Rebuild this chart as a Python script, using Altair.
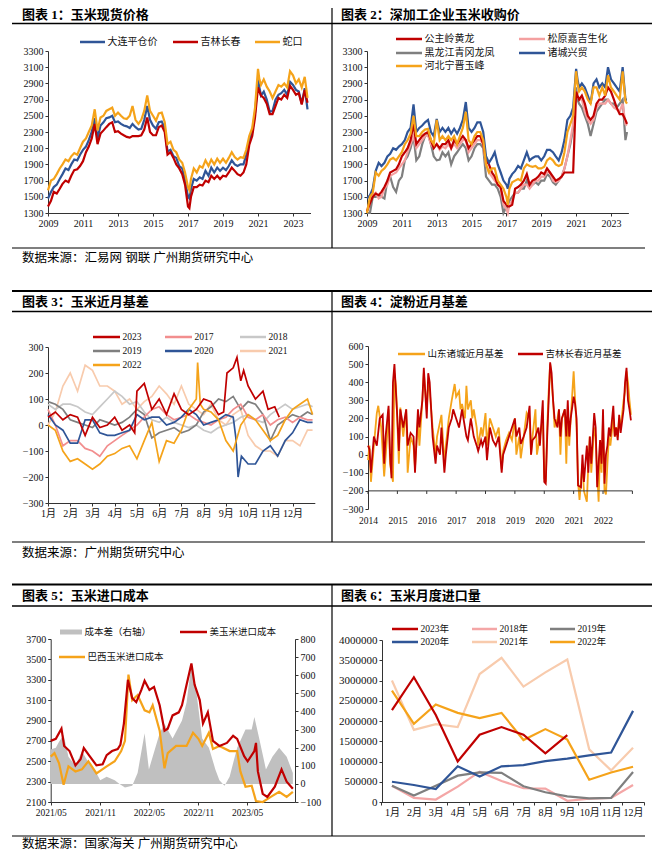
import altair as alt
import pandas as pd

NUM_FONT = "Liberation Serif, Noto Sans CJK SC"
RED = "#C00000"
BLUE = "#2F5597"
GOLD = "#F5A31A"
PINK = "#F4A0A0"
GRAY = "#7F7F7F"
LGRAY = "#C8C8C8"
PEACH = "#F8CBAD"
AREAGRAY = "#C0C0C0"
INK = "#111111"
AX = "#333333"

W, H = 644, 842  # whole drawing, page coordinates minus the 8px margin

# ---------------- Panel 1: 玉米现货价格 ----------------
p1_names = ["大连平仓价", "吉林长春", "蛇口"]
p1_t = [2009.0, 2009.17, 2009.33, 2009.5, 2009.67, 2009.83,
        2010.0, 2010.17, 2010.33, 2010.5, 2010.67, 2010.83,
        2011.0, 2011.17, 2011.33, 2011.5, 2011.67, 2011.83,
        2012.0, 2012.17, 2012.33, 2012.5, 2012.67, 2012.83,
        2013.0, 2013.17, 2013.33, 2013.5, 2013.67, 2013.83,
        2014.0, 2014.17, 2014.33, 2014.5, 2014.67, 2014.83,
        2015.0, 2015.17, 2015.33, 2015.5, 2015.67, 2015.83,
        2016.0, 2016.17, 2016.33, 2016.5, 2016.67, 2016.83,
        2017.0, 2017.08, 2017.17, 2017.33, 2017.5, 2017.67, 2017.83,
        2018.0, 2018.17, 2018.33, 2018.5, 2018.67, 2018.83,
        2019.0, 2019.17, 2019.33, 2019.5, 2019.67, 2019.83,
        2020.0, 2020.17, 2020.33, 2020.5, 2020.67, 2020.83,
        2021.0, 2021.08, 2021.17, 2021.33, 2021.5, 2021.67, 2021.83,
        2022.0, 2022.17, 2022.33, 2022.5, 2022.67, 2022.83,
        2023.0, 2023.17, 2023.33, 2023.5, 2023.67, 2023.83]
p1_shekou = [1580, 1700, 1720, 1780, 1850, 1900,
             1960, 1940, 2000, 2040, 2020, 2100,
             2180, 2220, 2300, 2380, 2580, 2320,
             2480, 2500, 2560, 2580, 2600, 2500,
             2540, 2500, 2470, 2460, 2500, 2620,
             2450, 2400, 2450, 2560, 2750, 2560,
             2500, 2440, 2530, 2540, 2420, 2150,
             2180, 2080, 2050, 1960, 1920, 1800,
             1620, 1580, 1720, 1850, 1800, 1880, 1860,
             1950, 1880, 1960, 1900, 1970, 1920,
             1970, 1920, 1980, 2050, 1990, 1960,
             1990, 1980, 2080, 2250, 2350, 2600,
             3080, 2950, 2880, 2950, 2860, 2800, 2720,
             2800, 2880, 2860, 2900, 2850, 3050,
             3000, 2900, 2950, 2850, 2980, 2720]
p1_dalian = [1480, 1560, 1620, 1650, 1720, 1780,
             1850, 1830, 1900, 1960, 1950, 2020,
             2080, 2120, 2200, 2300, 2470, 2220,
             2380, 2420, 2470, 2480, 2500, 2420,
             2430, 2400, 2380, 2370, 2350, 2400,
             2360, 2330, 2340, 2450, 2620, 2450,
             2380, 2340, 2420, 2430, 2350, 2060,
             2080, 2000, 1980, 1880, 1850, 1700,
             1500, 1480, 1600, 1720, 1700, 1740, 1720,
             1820, 1760, 1860, 1800, 1860, 1820,
             1860, 1830, 1880, 1950, 1900, 1880,
             1900, 1900, 2020, 2200, 2300, 2540,
             2950, 2850, 2750, 2800, 2700, 2550, 2560,
             2700, 2760, 2780, 2820, 2760, 2920,
             2880, 2820, 2800, 2650, 2840, 2580]
p1_jilin = [1380, 1450, 1560, 1540, 1600, 1660,
            1700, 1680, 1760, 1830, 1840, 1880,
            1940, 2050, 2120, 2220, 2400, 2150,
            2280, 2320, 2360, 2400, 2420, 2300,
            2310, 2280, 2260, 2240, 2230, 2250,
            2250, 2250, 2260, 2330, 2480, 2300,
            2260, 2260, 2360, 2380, 2300, 2020,
            2050, 1980, 1900, 1850, 1780, 1650,
            1380, 1360, 1500, 1620, 1620, 1650, 1640,
            1700, 1680, 1760, 1720, 1760, 1720,
            1760, 1750, 1800, 1860, 1820, 1780,
            1760, 1800, 1900, 2140, 2250, 2480,
            2850, 2800, 2750, 2720, 2650, 2520, 2520,
            2620, 2720, 2700, 2760, 2720, 2870,
            2820, 2760, 2780, 2640, 2820, 2660]
p1_xticks = [2009, 2011, 2013, 2015, 2017, 2019, 2021, 2023]
p1_yticks = [1300, 1500, 1700, 1900, 2100, 2300, 2500, 2700, 2900, 3100, 3300]

# ---------------- Panel 2: 深加工企业玉米收购价 ----------------
p2_names = ["公主岭黄龙", "松原嘉吉生化", "黑龙江青冈龙凤", "诸城兴贸", "河北宁晋玉峰"]
p2_t = p1_t + [2023.92]
p2_zhucheng = [1480, 1520, 1600, 1820, 1920, 1880,
               1920, 2000, 2030, 2100, 2080, 2120,
               2150, 2200, 2300, 2350, 2640, 2300,
               2350, 2380, 2420, 2450, 2300, 2250,
               2460, 2300, 2350, 2300, 2350, 2280,
               2340, 2280, 2350, 2450, 2670, 2350,
               2300, 2350, 2420, 2420, 2300, 2000,
               1920, 1980, 2050, 1900, 1800, 1700,
               1650, 1600, 1720, 1780, 1820, 1880, 1850,
               1950, 2050, 1950, 1980, 2000, 2000,
               1950, 2000, 2080, 2080, 2050, 2000,
               1950, 2050, 2200, 2450, 2500, 2600,
               3080, 2950, 2850, 2900, 2850, 2750, 2650,
               2900, 2950, 2850, 2900, 2850, 3100,
               2950, 2900, 2850, 2800, 3100, 2700, 2700]
p2_ningjin = [1300, 1500, 1550, 1800, 1760, 1820,
              1850, 1900, 1960, 1980, 1950, 2000,
              2050, 2150, 2200, 2280, 2500, 2250,
              2250, 2300, 2330, 2340, 2200, 2150,
              2450, 2200, 2250, 2200, 2250, 2200,
              2250, 2150, 2250, 2350, 2550, 2200,
              2150, 2250, 2300, 2300, 2200, 1900,
              1800, 1850, 1850, 1700, 1650, 1600,
              1500, 1400, 1600, 1680, 1700, 1720, 1700,
              1850, 1900, 1880, 1870, 1880, 1850,
              1850, 1870, 1950, 1980, 1950, 1900,
              1880, 1900, 2050, 2300, 2400, 2500,
              3050, 2900, 2800, 2850, 2800, 2700, 2650,
              2850, 2850, 2750, 2850, 2750, 3000,
              2850, 2800, 2750, 2700, 3050, 2680, 2650]
p2_huanglong = [1320, 1420, 1500, 1540, 1520, 1560,
                1620, 1700, 1800, 1820, 1840, 1900,
                2000, 2050, 2100, 2200, 2400, 2150,
                2200, 2250, 2280, 2300, 2200, 2100,
                2150, 2100, 2150, 2150, 2200, 2100,
                2200, 2150, 2200, 2250, 2200, 2100,
                2150, 2200, 2250, 2250, 2150, 1950,
                1900, 1800, 1750, 1650, 1620, 1450,
                1400, 1380, 1380, 1400, 1600, 1620, 1650,
                1700, 1780, 1650, 1700, 1720, 1750,
                1800, 1780, 1850, 1800, 1750, 1700,
                1720, 1750, 1800, 1800, 1800, 1800,
                2800, 2750, 2700, 2750, 2650, 2500, 2450,
                2500, 2650, 2700, 2700, 2750, 2850,
                2800, 2700, 2600, 2520, 2520, 2450, 2400]
p2_songyuan = [1330, 1450, 1520, 1550, 1480, 1500,
               1600, 1650, 1760, 1780, 1800, 1850,
               1900, 1950, 2050, 2150, 2250, 2100,
               2150, 2200, 2250, 2260, 2150, 2100,
               2150, 2080, 2120, 2100, 2150, 2100,
               2150, 2100, 2150, 2200, 2200, 2050,
               2100, 2150, 2200, 2200, 2150, 1900,
               1800, 1750, 1700, 1650, 1600, 1400,
               1350, 1300, 1400, 1450, 1550, 1550, 1600,
               1650, 1650, 1600, 1650, 1700, 1700,
               1750, 1750, 1800, 1800, 1700, 1680,
               1700, 1750, 1850, 2000, 2200, 2400,
               2800, 2750, 2700, 2700, 2550, 2450, 2400,
               2450, 2600, 2650, 2650, 2650, 2700,
               2650, 2600, 2580, 2550, 2650, 2400, 2380]
p2_qinggang = [1300, 1300, 1500, 1500, 1520, 1500,
               1480, 1700, 1750, 1620, 1560, 1700,
               1750, 1950, 2000, 2100, 2250, 1950,
               2000, 2150, 2250, 2280, 2150, 2000,
               1950, 1960, 2050, 2000, 2050, 1900,
               2000, 2050, 2100, 2150, 2100, 1950,
               2000, 2100, 2150, 2150, 2100, 1750,
               1700, 1650, 1650, 1600, 1500, 1300,
               1380, 1350, 1450, 1500, 1550, 1550, 1600,
               1600, 1700, 1620, 1650, 1680, 1650,
               1700, 1700, 1780, 1750, 1680, 1650,
               1700, 1750, 1850, 2000, 2150, 2350,
               2850, 2700, 2650, 2600, 2500, 2400, 2250,
               2400, 2550, 2600, 2650, 2700, 2700,
               2650, 2650, 2600, 2650, 2700, 2200, 2300]

# ---------------- Panel 3: 玉米近月基差 ----------------
p3_names = ["2023", "2017", "2018", "2019", "2020", "2021", "2022"]
p3_grid = [1.0, 1.33, 1.67, 2.0, 2.33, 2.67, 3.0, 3.33, 3.67, 4.0, 4.33, 4.67,
           5.0, 5.33, 5.67, 6.0, 6.33, 6.67, 7.0, 7.33, 7.67, 8.0, 8.33, 8.67,
           9.0, 9.33, 9.67, 10.0, 10.33, 10.67, 11.0, 11.33, 11.67, 12.0, 12.33, 12.67, 12.9]
b2017 = [60, 0, -80, -60, -60, -90, -100, -120, -80, -60, -40, -20, 0, 30, 60, 70, 40, 20,
         30, 40, 20, 10, 0, 20, 30, 60, 80, 30, 20, 40, 0, 20, 30, 10, 30, 20, 20]
b2018 = [80, 60, 80, 80, 70, 50, 40, 70, 100, 130, 110, 80, 90, 50, 20, 10, 30, 10,
         0, -10, 0, -20, -30, -10, 0, 10, 30, 40, 20, 10, 40, 60, 80, 60, 70, 80, 70]
b2019 = [90, 80, 60, 20, 10, 0, -10, 20, 10, 0, 10, 30, 60, 40, -50, -30, -20, -10,
         -30, -20, 0, 50, 70, 100, 90, 110, 60, 90, 80, 40, -60, 0, 20, 40, 30, 50, 40]
b2021 = [0, 50, 150, 200, 130, 230, 210, 150, 150, 130, 80, 100, 60, 90, 110, 150, 120, 80,
         150, 80, 60, 40, 80, 20, 0, 40, 60, -40, -80, -100, -100, -120, -60, -60, -80, -20, -20]
m2023 = [1.0, 1.33, 1.67, 2.0, 2.33, 2.67, 3.0, 3.33, 3.67, 4.0, 4.33, 4.67, 4.9,
         5.0, 5.33, 5.67, 6.0, 6.33, 6.67, 7.0, 7.33, 7.67, 8.0, 8.33, 8.67, 8.9,
         9.05, 9.33, 9.5, 9.67, 9.8, 10.0, 10.33, 10.67, 10.9, 11.2, 11.4]
b2023 = [30, 50, 20, 40, 30, -40, 30, -10, 0, 30, -20, 0, -30,
         130, 160, 60, 100, 40, 120, 60, 40, 60, 100, 90, 40, 50,
         200, 220, 260, 170, 210, 150, 100, 130, 60, 70, 30]
m2020 = [1.0, 1.33, 1.67, 2.0, 2.33, 2.67, 3.0, 3.33, 3.67, 4.0, 4.33, 4.67, 5.0,
         5.33, 5.67, 6.0, 6.33, 6.67, 7.0, 7.33, 7.67, 8.0, 8.33, 8.67, 9.0, 9.33,
         9.45, 9.55, 9.7, 10.0, 10.33, 10.67, 11.0, 11.33, 11.67, 12.0, 12.33, 12.67, 12.9]
b2020 = [40, 0, -20, -70, -70, 20, 20, -30, -40, -40, -30, -20, 40,
         20, 30, 30, 0, 10, 30, 60, 40, 0, 10, 20, 40, 30,
         -50, -200, -120, -150, -150, -100, -80, -120, -60, -30, 20, 10, 10]
m2022 = [1.0, 1.33, 1.67, 2.0, 2.33, 2.67, 3.0, 3.33, 3.67, 4.0, 4.33, 4.67, 5.0,
         5.33, 5.67, 6.0, 6.33, 6.67, 7.0, 7.33, 7.67, 7.73, 7.85, 8.0, 8.33, 8.67,
         9.0, 9.33, 9.67, 10.0, 10.33, 10.67, 11.0, 11.33, 11.67, 12.0, 12.33, 12.67, 12.9]
b2022 = [0, -20, -100, -140, -130, -150, -170, -150, -120, -110, -90, -80, -130,
         -60, 10, -140, -60, -70, -20, 60, 100, 240, 80, 60, 50, 20,
         -60, -100, 0, 40, 20, -20, -60, -40, 20, 60, 80, 100, 40]
p3_months = [1, 2, 3, 4, 5, 6, 7, 8, 9, 10, 11, 12]
p3_yticks = [-300, -200, -100, 0, 100, 200, 300]

# ---------------- Panel 4: 淀粉近月基差 ----------------
p4_names = ["山东诸城近月基差", "吉林长春近月基差"]
p4_shandong = [
    (2014.0, -30), (2014.05, 50), (2014.1, -150), (2014.2, 50), (2014.3, 230), (2014.35, 270),
    (2014.45, 150), (2014.55, -120), (2014.65, 100), (2014.7, 250), (2014.75, -50), (2014.85, -150),
    (2014.9, 450), (2014.95, 380), (2015.0, 180), (2015.05, -50), (2015.1, 260), (2015.2, 100),
    (2015.3, 250), (2015.35, -100), (2015.45, 100), (2015.55, 50), (2015.6, -70), (2015.7, 200),
    (2015.75, 50), (2015.85, 300), (2015.9, 450), (2016.0, 250), (2016.05, 400), (2016.1, 350),
    (2016.2, 150), (2016.3, 0), (2016.35, 100), (2016.45, 180), (2016.5, 220), (2016.6, -50),
    (2016.65, 50), (2016.75, 200), (2016.85, 300), (2016.95, 390), (2017.0, 320), (2017.1, 350),
    (2017.15, 250), (2017.2, 280), (2017.3, 200), (2017.35, 380), (2017.4, 250), (2017.5, 300),
    (2017.55, 200), (2017.6, 250), (2017.7, 150), (2017.75, 50), (2017.85, 150), (2017.9, 100),
    (2018.0, 230), (2018.05, 50), (2018.15, 200), (2018.25, 150), (2018.35, 100), (2018.45, 150),
    (2018.55, -80), (2018.6, 20), (2018.7, 80), (2018.8, 120), (2018.9, 80), (2019.0, 200),
    (2019.05, 0), (2019.15, 100), (2019.2, -20), (2019.3, 100), (2019.4, 230), (2019.5, 200),
    (2019.55, 0), (2019.6, 100), (2019.7, 250), (2019.75, 0), (2019.85, 100), (2019.95, 200),
    (2020.0, -130), (2020.05, -150), (2020.1, 150), (2020.15, 350), (2020.2, 500), (2020.25, 400),
    (2020.3, 300), (2020.35, 150), (2020.45, 200), (2020.5, 250), (2020.55, 0), (2020.6, 200),
    (2020.7, 250), (2020.75, -50), (2020.8, 250), (2020.85, 50), (2020.9, 200), (2021.0, 460),
    (2021.05, 300), (2021.1, 150), (2021.15, -150), (2021.2, -250), (2021.3, -50), (2021.35, -200),
    (2021.45, -260), (2021.5, -50), (2021.55, 100), (2021.6, -100), (2021.7, 150), (2021.75, 100),
    (2021.8, -100), (2021.85, -260), (2021.9, 50), (2021.95, -100), (2022.0, 200), (2022.05, -200),
    (2022.1, -220), (2022.15, -50), (2022.2, 100), (2022.25, 50), (2022.35, 200), (2022.4, 100),
    (2022.45, 150), (2022.5, 100), (2022.55, 200), (2022.6, 150), (2022.7, 300), (2022.75, 350),
    (2022.8, 460), (2022.85, 400), (2022.9, 300), (2022.95, 220)]
p4_jilin = [
    (2014.0, 50), (2014.05, 30), (2014.1, -100), (2014.2, 100), (2014.3, 50), (2014.4, 200),
    (2014.5, 220), (2014.55, -50), (2014.6, 100), (2014.7, 270), (2014.75, 0), (2014.8, -130),
    (2014.85, 400), (2014.9, 500), (2015.0, 200), (2015.05, 20), (2015.1, 250), (2015.2, 150),
    (2015.3, 250), (2015.35, 50), (2015.45, 120), (2015.55, 100), (2015.6, -100), (2015.7, 250),
    (2015.75, 150), (2015.85, 300), (2015.9, 480), (2016.0, 200), (2016.05, 450), (2016.1, 400),
    (2016.2, 100), (2016.3, -50), (2016.35, 50), (2016.45, 0), (2016.5, 150), (2016.6, -100),
    (2016.65, 0), (2016.75, 150), (2016.85, 200), (2016.9, 250), (2017.0, 200), (2017.1, 150),
    (2017.2, 250), (2017.3, 150), (2017.35, 100), (2017.4, 80), (2017.5, 200), (2017.55, 150),
    (2017.6, 100), (2017.7, 50), (2017.75, 20), (2017.85, 80), (2017.9, 50), (2018.0, 100),
    (2018.05, -30), (2018.15, 150), (2018.25, 80), (2018.35, 50), (2018.45, 100), (2018.55, -100),
    (2018.6, 0), (2018.7, 50), (2018.8, 100), (2018.9, 150), (2019.0, 200), (2019.05, 100),
    (2019.15, 150), (2019.2, 60), (2019.3, 100), (2019.4, 150), (2019.5, 270), (2019.55, 0),
    (2019.6, 80), (2019.7, 100), (2019.8, 150), (2019.85, 50), (2019.95, 300), (2020.0, -150),
    (2020.05, -160), (2020.1, 100), (2020.15, 300), (2020.2, 510), (2020.25, 450), (2020.3, 300),
    (2020.35, 200), (2020.45, 150), (2020.5, 250), (2020.55, 100), (2020.6, 200), (2020.7, 250),
    (2020.75, 100), (2020.8, 300), (2020.85, 100), (2020.9, 200), (2021.0, 320), (2021.05, 280),
    (2021.1, 200), (2021.15, -170), (2021.25, -180), (2021.3, 0), (2021.35, -150), (2021.45, 50),
    (2021.5, -100), (2021.55, 100), (2021.6, -50), (2021.7, 230), (2021.75, 150), (2021.8, -180),
    (2021.9, 80), (2021.95, -50), (2022.0, 250), (2022.05, -160), (2022.1, 0), (2022.15, 50),
    (2022.2, 150), (2022.25, 100), (2022.35, 270), (2022.4, 100), (2022.45, 150), (2022.5, 80),
    (2022.55, 220), (2022.6, 120), (2022.7, 250), (2022.75, 400), (2022.8, 480), (2022.85, 300),
    (2022.9, 250), (2022.95, 190)]
p4_years = [2014, 2015, 2016, 2017, 2018, 2019, 2020, 2021, 2022]
p4_tickyears = [2014, 2015, 2016, 2017, 2018, 2019, 2020, 2021, 2022, 2023]
p4_yticks = [-300, -200, -100, 0, 100, 200, 300, 400, 500, 600]
p4_baseline = -200

# ---------------- Panel 5: 玉米进口成本 ----------------
p5_names = ["成本差（右轴）", "美玉米进口成本", "巴西玉米进口成本"]
p5_us = [
    ("2021/05/01", 2700), ("2021/05/20", 2720), ("2021/06/10", 2820), ("2021/06/20", 2650),
    ("2021/07/10", 2600), ("2021/08/01", 2460), ("2021/08/20", 2520), ("2021/09/01", 2630),
    ("2021/09/20", 2560), ("2021/10/18", 2460), ("2021/11/10", 2470), ("2021/11/25", 2560),
    ("2021/12/15", 2600), ("2022/01/05", 2620), ("2022/01/15", 2660), ("2022/01/28", 2870),
    ("2022/02/12", 3300), ("2022/02/28", 3120), ("2022/03/15", 3080), ("2022/04/03", 3200),
    ("2022/04/15", 3290), ("2022/05/03", 3200), ("2022/05/20", 3230), ("2022/06/10", 3050),
    ("2022/06/28", 2800), ("2022/07/10", 2820), ("2022/07/28", 2950), ("2022/08/20", 2980),
    ("2022/09/01", 3050), ("2022/09/18", 3250), ("2022/10/06", 3460), ("2022/10/18", 3250),
    ("2022/11/06", 3100), ("2022/11/18", 2870), ("2022/12/06", 2980), ("2022/12/25", 2700),
    ("2023/01/18", 2650), ("2023/02/15", 2680), ("2023/03/10", 2750), ("2023/03/25", 2720),
    ("2023/04/20", 2550), ("2023/05/03", 2500), ("2023/05/28", 2600), ("2023/06/03", 2680),
    ("2023/06/10", 2400), ("2023/06/28", 2180), ("2023/07/15", 2150), ("2023/08/12", 2250),
    ("2023/09/06", 2420), ("2023/09/25", 2300), ("2023/10/18", 2230)]
p5_brazil = [
    ("2021/05/01", 2545), ("2021/05/15", 2580), ("2021/06/01", 2480), ("2021/06/18", 2270),
    ("2021/07/06", 2450), ("2021/08/01", 2400), ("2021/08/25", 2420), ("2021/09/18", 2500),
    ("2021/10/18", 2380), ("2021/11/25", 2450), ("2021/12/25", 2500), ("2022/01/18", 2600),
    ("2022/02/01", 2700), ("2022/02/14", 3350), ("2022/02/28", 3100), ("2022/03/20", 3150),
    ("2022/04/15", 3000), ("2022/05/03", 2980), ("2022/05/15", 3050), ("2022/06/10", 2800),
    ("2022/06/28", 2430), ("2022/07/10", 2580), ("2022/08/10", 2650), ("2022/09/18", 2650),
    ("2022/10/12", 2780), ("2022/11/01", 2720), ("2022/11/15", 2650), ("2022/12/10", 2780),
    ("2022/12/25", 2620), ("2023/01/18", 2650), ("2023/02/25", 2600), ("2023/03/25", 2600),
    ("2023/04/06", 2400), ("2023/04/25", 2250), ("2023/05/18", 2260), ("2023/06/03", 2110),
    ("2023/06/28", 2100), ("2023/07/28", 2150), ("2023/08/28", 2200), ("2023/09/25", 2150),
    ("2023/10/18", 2200)]
p5_spread = [
    ("2021/05/01", 190), ("2021/05/20", 200), ("2021/06/01", 232), ("2021/06/18", 270),
    ("2021/07/06", 150), ("2021/08/01", 100), ("2021/08/25", 180), ("2021/09/18", 120),
    ("2021/10/18", 60), ("2021/11/01", 20), ("2021/11/25", 40), ("2021/12/25", 20),
    ("2022/01/12", 0), ("2022/02/01", -20), ("2022/02/28", -10), ("2022/03/20", 60),
    ("2022/04/15", 280), ("2022/05/01", 80), ("2022/05/15", 150), ("2022/06/10", 280),
    ("2022/06/28", 330), ("2022/07/28", 250), ("2022/09/01", 350), ("2022/09/18", 450),
    ("2022/10/06", 660), ("2022/10/25", 500), ("2022/11/15", 250), ("2022/12/10", 200),
    ("2023/01/03", 80), ("2023/01/18", 20), ("2023/02/06", -10), ("2023/02/25", 40),
    ("2023/03/25", 200), ("2023/04/25", 300), ("2023/05/18", 300), ("2023/05/28", 370),
    ("2023/06/15", 250), ("2023/07/10", 80), ("2023/08/03", 150), ("2023/08/28", 200),
    ("2023/09/25", 150), ("2023/10/18", 60)]
p5_left_ticks = [2100, 2300, 2500, 2700, 2900, 3100, 3300, 3500, 3700]
p5_right_ticks = [-100, 0, 100, 200, 300, 400, 500, 600, 700, 800]
p5_xlabels = [(2021, 5), (2021, 11), (2022, 5), (2022, 11), (2023, 5)]

# ---------------- Panel 6: 玉米月度进口量 ----------------
p6_names = ["2023年", "2018年", "2019年", "2020年", "2021年", "2022年"]
imp_2023 = [2270000, 3080000, 2150000, 1000000, 1660000, 1850000, 1660000, 1200000, 1650000]
imp_2018 = [400000, 100000, 60000, 380000, 750000, 520000, 340000, 330000, 30000, 80000, 100000, 420000]
imp_2019 = [400000, 160000, 400000, 650000, 730000, 720000, 390000, 240000, 140000, 90000, 100000, 740000]
imp_2020 = [500000, 420000, 320000, 880000, 630000, 880000, 910000, 1010000, 1070000, 1150000, 1220000, 2250000]
imp_2021 = [3000000, 1780000, 1920000, 1850000, 3160000, 3560000, 2850000, 3200000, 3520000, 1300000, 780000, 1340000]
imp_2022 = [2750000, 1930000, 2410000, 2200000, 2070000, 2200000, 1530000, 1800000, 1540000, 550000, 730000, 870000]
p6_yticks = [0, 500000, 1000000, 1500000, 2000000, 2500000, 3000000, 3500000, 4000000]
p6_xticks = [0.5, 1.5, 2.5, 3.5, 4.5, 5.5, 6.5, 7.5, 8.5, 9.5, 10.5, 11.5, 12.5]

titles = ["图表 1：玉米现货价格", "图表 2：深加工企业玉米收购价", "图表 3：玉米近月基差",
          "图表 4：淀粉近月基差", "图表 5：玉米进口成本", "图表 6：玉米月度进口量"]
sources = ["数据来源：汇易网 钢联 广州期货研究中心", "数据来源：广州期货研究中心",
           "数据来源：国家海关 广州期货研究中心"]


# ---------------- helpers ----------------
def long_df(series):
    rows = []
    for name, xs, ys in series:
        for x, y in zip(xs, ys):
            rows.append({"x": x, "y": y, "s": name})
    return pd.DataFrame(rows)


def pairs_df(series):
    rows = []
    for name, pts in series:
        for x, y in pts:
            rows.append({"x": x, "y": y, "s": name})
    return pd.DataFrame(rows)


ONE = alt.InlineData(values=[{"k": 1}])


def hline(x1, x2, y, w=1.0, color="black"):
    return alt.Chart(ONE).mark_rule(color=color, strokeWidth=w).encode(
        x=alt.value(x1), x2=alt.value(x2), y=alt.value(y))


def vline(x, y1, y2, w=1.0):
    return alt.Chart(ONE).mark_rule(color="black", strokeWidth=w).encode(
        x=alt.value(x), y=alt.value(y1), y2=alt.value(y2))


def text(x, y, s, bold=False, size=13, color="black"):
    return alt.Chart(ONE).mark_text(align="left", baseline="middle", fontSize=size,
                                    fontWeight="bold" if bold else "normal",
                                    font=NUM_FONT, color=color).encode(
        x=alt.value(x), y=alt.value(y), text=alt.value(s))


def legend_items(items, size=10):
    # items: (label, colour, line x0, line x1, y, stroke width)
    out = []
    for label, col, x0, x1, y, sw in items:
        out.append(hline(x0, x1, y, sw, col))
        out.append(text(x1 + 2.5, y, label, size=size, color=INK))
    return out


def xaxis(values, bottom, **kw):
    base = dict(values=values, orient="bottom", offset=bottom - H, title=None, grid=False,
                labelOverlap=False, labelFlush=False)
    base.update(kw)
    return alt.Axis(**base)


def yaxis(values, left, **kw):
    base = dict(values=values, orient="left", offset=-left, title=None, grid=False,
                labelOverlap=False, format="d")
    base.update(kw)
    return alt.Axis(**base)


# ---------------- Panel 1 ----------------
df1 = long_df([(p1_names[0], p1_t, p1_dalian), (p1_names[1], p1_t, p1_jilin),
               (p1_names[2], p1_t, p1_shekou)])
c1 = [BLUE, RED, GOLD]
p1 = alt.Chart(df1).mark_line(strokeWidth=2.2).encode(
    x=alt.X("x:Q", scale=alt.Scale(domain=[2009, 2024], range=[40, 302.5], nice=False),
            axis=xaxis(p1_xticks, 205, format="d")),
    y=alt.Y("y:Q", scale=alt.Scale(domain=[1300, 3300], range=[205, 43], nice=False),
            axis=yaxis(p1_yticks, 40)),
    color=alt.Color("s:N", scale=alt.Scale(domain=p1_names, range=c1), legend=None),
)

# ---------------- Panel 2 ----------------
df2 = long_df([(p2_names[2], p2_t, p2_qinggang), (p2_names[1], p2_t, p2_songyuan),
               (p2_names[0], p2_t, p2_huanglong), (p2_names[3], p2_t, p2_zhucheng),
               (p2_names[4], p2_t, p2_ningjin)])
c2 = [RED, PINK, GRAY, BLUE, GOLD]
p2 = alt.Chart(df2).mark_line(strokeWidth=2.2).encode(
    x=alt.X("x:Q", scale=alt.Scale(domain=[2009, 2024], range=[359, 620.4], nice=False),
            axis=xaxis(p1_xticks, 205, format="d")),
    y=alt.Y("y:Q", scale=alt.Scale(domain=[1300, 3300], range=[205, 43], nice=False),
            axis=yaxis(p1_yticks, 359)),
    color=alt.Color("s:N", scale=alt.Scale(domain=p2_names, range=c2), legend=None),
)

# ---------------- Panel 3 ----------------
df3 = long_df([("2021", p3_grid, b2021), ("2018", p3_grid, b2018), ("2019", p3_grid, b2019),
               ("2017", p3_grid, b2017), ("2020", m2020, b2020), ("2022", m2022, b2022),
               ("2023", m2023, b2023)])
c3 = [RED, "#F28E8E", LGRAY, GRAY, BLUE, PEACH, GOLD]
p3 = alt.Chart(df3).mark_line(strokeWidth=1.7).encode(
    x=alt.X("x:Q", scale=alt.Scale(domain=[1, 13], range=[40, 306.8], nice=False),
            axis=xaxis(p3_months, 495, labelExpr="datum.value + '月'")),
    y=alt.Y("y:Q", scale=alt.Scale(domain=[-300, 300], range=[495, 339], nice=False),
            axis=yaxis(p3_yticks, 40)),
    color=alt.Color("s:N", scale=alt.Scale(domain=p3_names, range=c3), legend=None),
)

# ---------------- Panel 4 ----------------
df4 = pairs_df([(p4_names[0], p4_shandong), (p4_names[1], p4_jilin)])
df4t = pd.DataFrame({"x": p4_tickyears, "y": [p4_baseline] * len(p4_tickyears),
                     "y2": [p4_baseline - 17] * len(p4_tickyears)})
df4b = pd.DataFrame({"x": [p4_tickyears[0]], "x2": [p4_tickyears[-1]], "y": [p4_baseline]})
c4 = [GOLD, RED]
x4 = alt.X("x:Q", scale=alt.Scale(domain=[2014, 2023], range=[360, 624.4], nice=False),
           axis=xaxis(p4_years, 501, format="d", domain=False, ticks=False,
                      labelPadding=6, labelFontSize=9.5))
y4 = alt.Y("y:Q", scale=alt.Scale(domain=[-300, 600], range=[501, 338], nice=False),
           axis=yaxis(p4_yticks, 360))
p4 = alt.layer(
    alt.Chart(df4).mark_line(strokeWidth=1.8).encode(
        x=x4, y=y4,
        color=alt.Color("s:N", scale=alt.Scale(domain=p4_names, range=c4), legend=None),
    ),
    alt.Chart(df4b).mark_rule(color=AX, strokeWidth=1).encode(x=x4, x2="x2:Q", y=y4),
    alt.Chart(df4t).mark_rule(color=AX, strokeWidth=1).encode(x=x4, y=y4, y2="y2:Q"),
)

# ---------------- Panel 5 ----------------
df5a = pd.DataFrame({"x": [d for d, _ in p5_spread], "y": [v for _, v in p5_spread]})
df5l = pairs_df([(p5_names[2], p5_brazil), (p5_names[1], p5_us)])
dstart = alt.DateTime(year=2021, month=5, date=1)
dend = alt.DateTime(year=2023, month=10, date=26)
x5 = alt.X("x:T", scale=alt.Scale(domain=[dstart, dend], range=[42.7, 287]),
           axis=xaxis([alt.DateTime(year=y, month=m, date=1) for y, m in p5_xlabels], 794,
                      format="%Y/%m", labelFontSize=9.5))
area5 = alt.Chart(df5a).mark_area(color=AREAGRAY).encode(
    x=x5,
    y=alt.Y("y:Q", scale=alt.Scale(domain=[-100, 800], range=[794, 631], nice=False),
            axis=alt.Axis(values=p5_right_ticks, orient="right", offset=287 - W, format="d",
                          title=None, grid=False, labelOverlap=False)),
    y2=alt.datum(0),
)
lines5 = alt.Chart(df5l).mark_line(strokeWidth=2.2).encode(
    x=x5,
    y=alt.Y("y:Q", scale=alt.Scale(domain=[2100, 3700], range=[794, 631], nice=False),
            axis=yaxis(p5_left_ticks, 42.7)),
    color=alt.Color("s:N", scale=alt.Scale(domain=p5_names, range=[AREAGRAY, RED, GOLD]),
                    legend=None),
)
p5 = alt.layer(area5, lines5).resolve_scale(y="independent")

# ---------------- Panel 6 ----------------
months = [1, 2, 3, 4, 5, 6, 7, 8, 9, 10, 11, 12]
df6 = long_df([("2021年", months, imp_2021), ("2018年", months, imp_2018),
               ("2019年", months, imp_2019), ("2020年", months, imp_2020),
               ("2022年", months, imp_2022), ("2023年", months[:9], imp_2023)])
c6 = [RED, "#F4A6A6", GRAY, BLUE, PEACH, GOLD]
p6 = alt.Chart(df6).mark_line(strokeWidth=2.2).encode(
    x=alt.X("x:Q", scale=alt.Scale(domain=[0.5, 12.5], range=[373, 636], nice=False),
            axis=xaxis(p6_xticks, 794, labelExpr="datum.value < 12 ? (datum.value + 0.5) + '月' : ''",
                       labelOffset=11, labelFontSize=10)),
    y=alt.Y("y:Q", scale=alt.Scale(domain=[0, 4000000], range=[794, 632], nice=False),
            axis=yaxis(p6_yticks, 374, labelFontSize=11)),
    color=alt.Color("s:N", scale=alt.Scale(domain=p6_names, range=c6), legend=None),
)

# ---------------- frames, titles, sources ----------------
frame = [
    # row 1
    vline(324, 0, 240, 1.2), hline(4, 644, 15.5, 1.3),
    text(14, 6.5, titles[0], bold=True), text(333, 6.5, titles[1], bold=True),
    hline(4, 637, 240, 1.2), text(14, 250, sources[0], size=12.5),
    # row 2
    hline(4, 644, 283, 2), vline(324, 283, 534, 1.2), hline(4, 644, 303.5, 1.3),
    text(14, 294, titles[2], bold=True), text(333, 294, titles[3], bold=True),
    hline(4, 637, 534, 1.2), text(14, 545, sources[1], size=12.5),
    # row 3
    hline(4, 644, 576.5, 2), vline(324, 576.5, 828, 1.2), hline(4, 644, 598, 1.3),
    text(14, 588, titles[4], bold=True), text(333, 588, titles[5], bold=True),
    hline(4, 637, 828, 1.2), text(14, 835.5, sources[2], size=12.5),
]

# ---------------- legends ----------------
legends = []
legends += legend_items([
    (p1_names[0], c1[0], 72, 97, 34, 2.5),
    (p1_names[1], c1[1], 165, 190, 34, 2.5),
    (p1_names[2], c1[2], 247, 272, 34, 2.5)], size=10)
legends += legend_items([
    (p2_names[0], c2[0], 388, 414, 31, 2.5),
    (p2_names[1], c2[1], 511, 537, 31, 2.5),
    (p2_names[2], c2[2], 388, 414, 45, 2.5),
    (p2_names[3], c2[3], 511, 537, 45, 2.5),
    (p2_names[4], c2[4], 388, 414, 58, 2.5)], size=10)
legends += legend_items([
    (p3_names[0], c3[0], 85, 112, 329, 2.5),
    (p3_names[1], c3[1], 157, 184, 329, 2.5),
    (p3_names[2], c3[2], 232, 258, 329, 2.5),
    (p3_names[3], c3[3], 85, 112, 343, 2.5),
    (p3_names[4], c3[4], 157, 184, 343, 2.5),
    (p3_names[5], c3[5], 232, 258, 343, 2.5),
    (p3_names[6], c3[6], 85, 112, 357, 2.5)], size=9.5)
legends += legend_items([
    (p4_names[0], c4[0], 390, 417, 346, 2.5),
    (p4_names[1], c4[1], 510, 535, 346, 2.5)], size=9.5)
legends += legend_items([
    (p5_names[0], AREAGRAY, 52, 74, 624, 5),
    (p5_names[1], RED, 172, 199, 624, 2.5),
    (p5_names[2], GOLD, 51, 77, 649, 2.5)], size=9.5)
legends += legend_items([
    (p6_names[0], c6[0], 384, 410, 621, 2.5),
    (p6_names[1], c6[1], 464, 489, 621, 2.5),
    (p6_names[2], c6[2], 542, 567, 621, 2.5),
    (p6_names[3], c6[3], 384, 410, 634, 2.5),
    (p6_names[4], c6[4], 464, 489, 634, 2.5),
    (p6_names[5], c6[5], 542, 567, 634, 2.5)], size=9.5)

chart = alt.layer(
    p5, p1, p2, p3, p4, p6, *frame, *legends
).resolve_scale(
    x="independent", y="independent", color="independent"
).properties(
    width=W, height=H, padding=0, autosize=alt.AutoSizeParams(type="none")
).configure_view(
    stroke=None
).configure_axis(
    domainColor=AX, tickColor=AX, tickSize=3, labelFont=NUM_FONT, labelFontSize=10,
    labelColor=INK, labelPadding=2, grid=False, domainWidth=1, labelOverlap=False
)

chart.save("out.html", embed_options={"renderer": "svg", "actions": False})
